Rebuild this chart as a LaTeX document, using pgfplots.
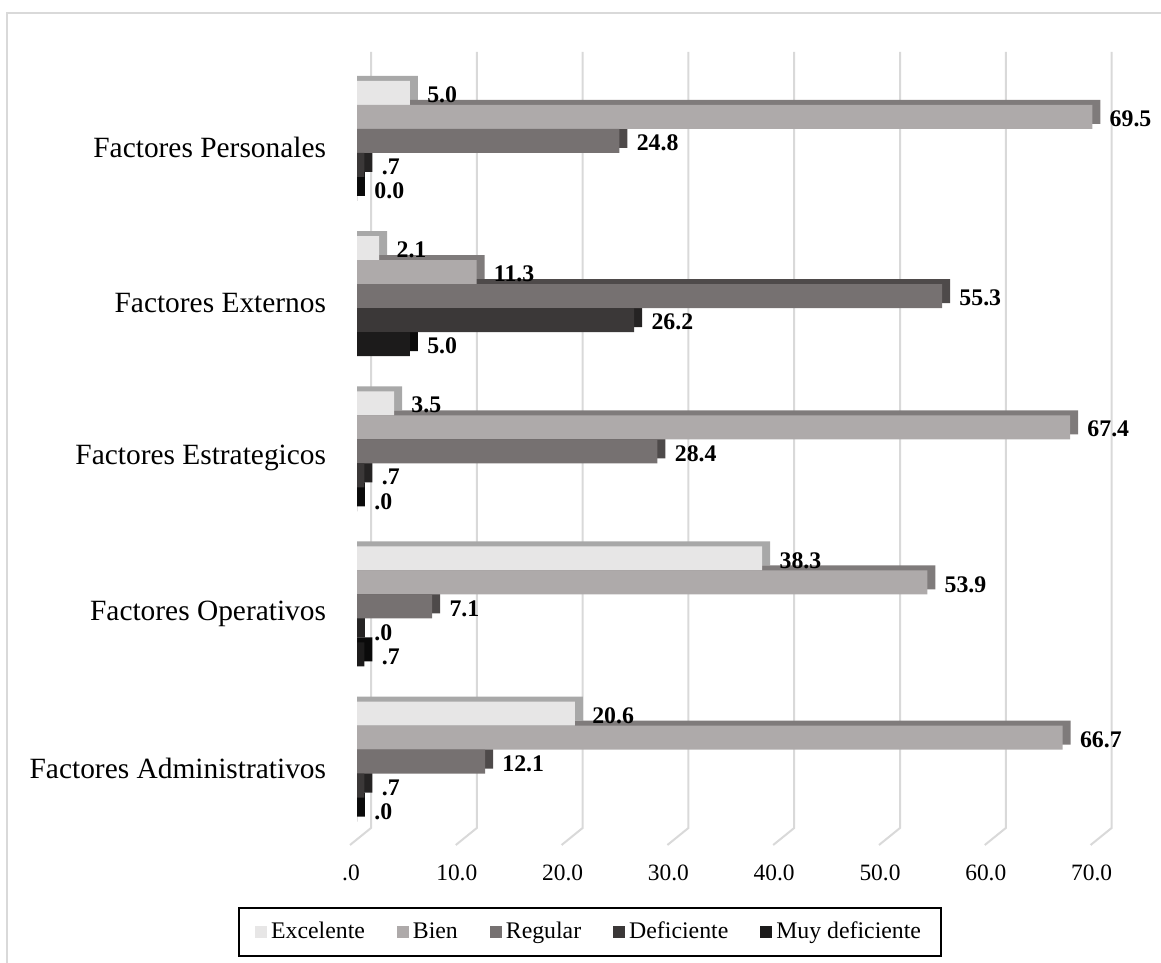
\documentclass[border=0pt]{standalone}
\usepackage{fontspec}
\setmainfont{Liberation Serif}
\usepackage{pgfplots}
\usepackage{pgfplotstable}
\pgfplotsset{compat=1.18}

% front faces and the darker depth faces of the 3-D bars
\definecolor{excF}{HTML}{E7E6E6}\definecolor{excE}{HTML}{A8A8A8}
\definecolor{bieF}{HTML}{AEAAAA}\definecolor{bieE}{HTML}{7F7B7B}
\definecolor{regF}{HTML}{767171}\definecolor{regE}{HTML}{4E4A4A}
\definecolor{defF}{HTML}{3B3838}\definecolor{defE}{HTML}{252323}
\definecolor{muyF}{HTML}{1C1B1B}\definecolor{muyE}{HTML}{0A0A0A}
\definecolor{gridc}{HTML}{D9D9D9}

% cat: 0 Administrativos, 1 Operativos, 2 Estrategicos, 3 Externos, 4 Personales
\pgfplotstableread{
cat val lab
0 20.6 20.6
1 38.3 38.3
2 3.5 3.5
3 2.1 2.1
4 5.0 5.0
}\excelente
\pgfplotstableread{
cat val lab
0 66.7 66.7
1 53.9 53.9
2 67.4 67.4
3 11.3 11.3
4 69.5 69.5
}\bien
\pgfplotstableread{
cat val lab
0 12.1 12.1
1 7.1 7.1
2 28.4 28.4
3 55.3 55.3
4 24.8 24.8
}\regular
\pgfplotstableread{
cat val lab
0 0.7 .7
1 0.0 .0
2 0.7 .7
3 26.2 26.2
4 0.7 .7
}\deficiente
\pgfplotstableread{
cat val lab
0 0.0 .0
1 0.7 .7
2 0.0 .0
3 5.0 5.0
4 0.0 0.0
}\muydef

\begin{document}
\begin{tikzpicture}
\useasboundingbox (0,0) rectangle (580.5pt,481.5pt);
\draw[gridc, line width=1pt] (3.5pt,0pt) -- (3.5pt,475pt) -- (580.5pt,475pt);
\begin{axis}[
  at={(178.5pt,59pt)}, anchor=south west,
  scale only axis, width=380.88pt, height=396.5pt,
  xmin=0, xmax=72, ymin=-0.537, ymax=4.573,
  xbar, bar width=12pt,
  clip=false,
  axis line style={draw=none}, tick style={draw=none},
  xtick={0,10,...,70},
  xticklabels={.0,10.0,20.0,30.0,40.0,50.0,60.0,70.0},
  xticklabel style={font=\fontsize{11.7}{13}\selectfont, anchor=center, inner sep=0pt, xshift=-3pt, yshift=-13.75pt},
  ytick={0,1,2,3,4},
  yticklabels={Factores Administrativos, Factores Operativos, Factores Estrategicos, Factores Externos, Factores Personales},
  yticklabel style={font=\fontsize{14.7}{16}\selectfont, anchor=east, inner sep=0pt, xshift=-11pt, yshift=-3.5pt},
  nodes near coords style={font=\fontsize{11.9}{13}\selectfont\bfseries, anchor=west, inner sep=0pt, xshift=8.5pt, yshift=-1pt},
  legend columns=5,
  legend style={at={(0.306,-0.1097)}, anchor=center, draw=black, line width=0.75pt,
    font=\fontsize{11.9}{13}\selectfont, inner xsep=8pt, inner ysep=5pt,
    /tikz/every even column/.append style={column sep=14pt}},
  legend image code/.code={\fill[#1] (0pt,-3pt) rectangle (6pt,3pt);},
]
% back-wall gridlines with their floor slant
\pgfplotsinvokeforeach{0,10,20,30,40,50,60,70}{
  \draw[gridc, line width=1pt] ([xshift=7pt]axis cs:#1,4.573) -- ([xshift=7pt,yshift=8.5pt]axis cs:#1,-0.537) -- ([xshift=-3.5pt]axis cs:#1,-0.537);
}
% depth faces (top and right side), drawn first
\addplot[fill=excE, draw=none, bar shift=26.5pt, forget plot] table[x expr=\thisrow{val}+0.756, y=cat]{\excelente};
\addplot[fill=bieE, draw=none, bar shift=14.5pt, forget plot] table[x expr=\thisrow{val}+0.756, y=cat]{\bien};
\addplot[fill=regE, draw=none, bar shift=2.5pt, forget plot] table[x expr=\thisrow{val}+0.756, y=cat]{\regular};
\addplot[fill=defE, draw=none, bar shift=-9.5pt, forget plot] table[x expr=\thisrow{val}+0.756, y=cat]{\deficiente};
\addplot[fill=muyE, draw=none, bar shift=-21.5pt, forget plot] table[x expr=\thisrow{val}+0.756, y=cat]{\muydef};
% front faces with value labels
\addplot[fill=excF, draw=none, bar shift=24pt, nodes near coords, point meta=explicit symbolic] table[x=val, y=cat, meta=lab]{\excelente};
\addplot[fill=bieF, draw=none, bar shift=12pt, nodes near coords, point meta=explicit symbolic] table[x=val, y=cat, meta=lab]{\bien};
\addplot[fill=regF, draw=none, bar shift=0pt, nodes near coords, point meta=explicit symbolic] table[x=val, y=cat, meta=lab]{\regular};
\addplot[fill=defF, draw=none, bar shift=-12pt, nodes near coords, point meta=explicit symbolic] table[x=val, y=cat, meta=lab]{\deficiente};
\addplot[fill=muyF, draw=none, bar shift=-24pt, nodes near coords, point meta=explicit symbolic] table[x=val, y=cat, meta=lab]{\muydef};
\legend{Excelente, Bien, Regular, Deficiente, Muy deficiente}
\end{axis}
\end{tikzpicture}
\end{document}
